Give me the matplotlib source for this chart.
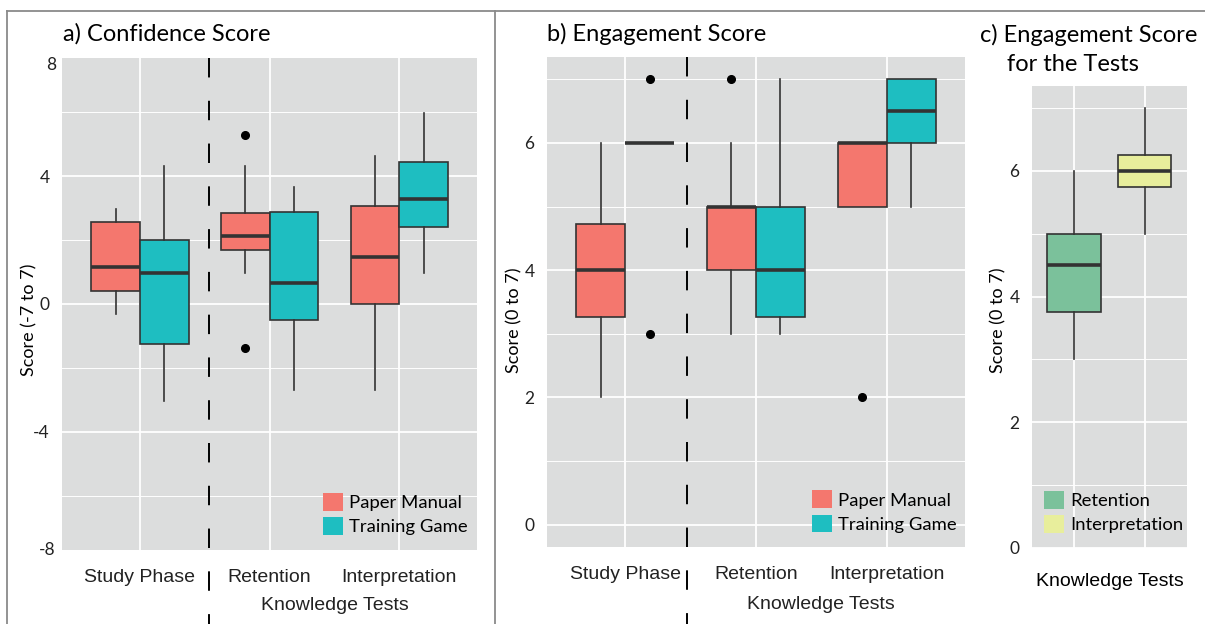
import numpy as np
import matplotlib
matplotlib.use("Agg")
import matplotlib.pyplot as plt
from matplotlib.patches import Patch
from matplotlib.lines import Line2D
import matplotlib.transforms as mtransforms

###---data (box stats: whislo, q1, med, q3, whishi)---###
categories = ["Study Phase", "Retention", "Interpretation"]
groups = ["Paper Manual", "Training Game"]

conf_paper = [[-0.31, 0.41, 1.16, 2.56, 2.97],
              [0.97, 1.69, 2.13, 2.84, 4.31],
              [-2.69, 0.00, 1.47, 3.06, 4.63]]
conf_paper_out = [[], [5.28, -1.37], []]
conf_game = [[-3.03, -1.25, 0.97, 2.00, 4.31],
             [-2.69, -0.50, 0.66, 2.88, 3.66],
             [0.97, 2.41, 3.28, 4.44, 5.97]]
conf_game_out = [[], [], []]

eng_paper = [[2.0, 3.26, 4.0, 4.73, 6.0],
             [3.0, 4.0, 5.0, 5.0, 6.0],
             [5.0, 5.0, 6.0, 6.0, 6.0]]
eng_paper_out = [[], [7.0], [2.0]]
eng_game = [[6.0, 6.0, 6.0, 6.0, 6.0],
            [3.0, 3.26, 4.0, 5.0, 7.0],
            [5.0, 6.0, 6.5, 7.0, 7.0]]
eng_game_out = [[7.0, 3.0], [], []]

test_names = ["Retention", "Interpretation"]
eng_tests = [[3.0, 3.75, 4.5, 5.0, 6.0],
             [5.0, 5.75, 6.0, 6.25, 7.0]]
eng_tests_out = [[], []]

c_paper = "#F4776E"
c_game = "#1EBEC1"
c_tests = ["#7BC19B", "#E8EE9C"]
bg = "#DCDDDD"
edge = "#333333"

title_font = "Lato"
tick_font = "Liberation Sans"


def stats(rows, outs):
    return [dict(whislo=r[0], q1=r[1], med=r[2], q3=r[3], whishi=r[4], fliers=o)
            for r, o in zip(rows, outs)]


def draw_box(ax, rows, outs, pos, width, colors):
    b = ax.bxp(stats(rows, outs), positions=pos, widths=width, patch_artist=True,
               showcaps=False, manage_ticks=False,
               boxprops=dict(edgecolor=edge, linewidth=1.2),
               whiskerprops=dict(color=edge, linewidth=1.2),
               medianprops=dict(color=edge, linewidth=2.6, solid_capstyle="butt"),
               flierprops=dict(marker="o", markerfacecolor="black",
                               markeredgecolor="black", markersize=5.5))
    for p, c in zip(b["boxes"], colors):
        p.set_facecolor(c)
        p.set_zorder(3)
    for k in ("whiskers", "medians", "fliers"):
        for l in b[k]:
            l.set_zorder(3.5)


def style(ax, ylim, major, minor, xlim):
    ax.set_facecolor(bg)
    ax.set_xlim(*xlim)
    ax.set_ylim(*ylim)
    ax.set_yticks(major)
    ax.set_yticks(minor, minor=True)
    for s in ax.spines.values():
        s.set_visible(False)
    ax.grid(True, which="major", color="white", linewidth=1.3)
    ax.grid(True, which="minor", axis="y", color="white", linewidth=0.7)
    ax.set_axisbelow(True)
    ax.tick_params(which="both", length=0)
    ax.tick_params(axis="y", pad=9, labelsize=12.5, labelcolor="#222222")
    ax.tick_params(axis="x", pad=14, labelsize=14, labelcolor="#222222")
    for t in ax.get_yticklabels():
        t.set_fontfamily(title_font)
    for t in ax.get_xticklabels():
        t.set_fontfamily(tick_font)


fig = plt.figure(figsize=(12.05, 6.24), dpi=100)
fig.patch.set_facecolor("white")

x = np.arange(len(categories))
w = 0.375
ylab_size = 13

###---a) confidence---###
ax1 = fig.add_axes([0.0515, 0.1186, 0.3444, 0.7885])
style(ax1, (-7.7, 7.7), [-4, 0, 4], [-6, -2, 2, 6], (-0.6, 2.6))
draw_box(ax1, conf_paper, conf_paper_out, x - w / 2, w, [c_paper] * 3)
draw_box(ax1, conf_game, conf_game_out, x + w / 2, w, [c_game] * 3)
ax1.set_xticks(x)
ax1.set_xticklabels(categories, fontfamily=tick_font)
ax1.set_yticks([-4, 0, 4])
ax1.set_yticklabels(["-4", "0", "4"], fontfamily=title_font)
ax1.text(-0.015, 0.985, "8", transform=ax1.transAxes, ha="right", va="center",
         fontsize=12.5, fontfamily=title_font, color="#222222")
ax1.text(-0.015, 0.0, "-8", transform=ax1.transAxes, ha="right", va="center",
         fontsize=12.5, fontfamily=title_font, color="#222222")
ax1.set_ylabel("Score (-7 to 7)", fontsize=ylab_size, fontfamily=title_font)
ax1.yaxis.set_label_coords(-0.06, 0.467)

###---b) engagement---###
ax2 = fig.add_axes([0.4539, 0.1234, 0.3469, 0.7853])
style(ax2, (-0.35, 7.35), [0, 2, 4, 6], [1, 3, 5, 7], (-0.6, 2.6))
draw_box(ax2, eng_paper, eng_paper_out, x - w / 2, w, [c_paper] * 3)
draw_box(ax2, eng_game, eng_game_out, x + w / 2, w, [c_game] * 3)
ax2.set_xticks(x)
ax2.set_xticklabels(categories, fontfamily=tick_font)
for t in ax2.get_yticklabels():
    t.set_fontfamily(title_font)
ax2.set_ylabel("Score (0 to 7)", fontsize=ylab_size, fontfamily=title_font)
ax2.yaxis.set_label_coords(-0.058, 0.463)

###---c) engagement for tests---###
ax3 = fig.add_axes([0.8564, 0.1218, 0.1286, 0.7404])
style(ax3, (0.0, 7.35), [0, 2, 4, 6], [1, 3, 5, 7], (-0.6, 1.6))
draw_box(ax3, eng_tests, eng_tests_out, np.arange(2), 0.76, c_tests)
ax3.set_xticks([0, 1])
ax3.set_xticklabels([])
for t in ax3.get_yticklabels():
    t.set_fontfamily(title_font)
ax3.set_ylabel("Score (0 to 7)", fontsize=ylab_size, fontfamily=title_font)
ax3.yaxis.set_label_coords(-0.165, 0.494)
ax3.set_xlabel("Knowledge Tests", fontsize=14, fontfamily=tick_font, labelpad=4)

# dashed separators and shared x labels
for ax, xd, yk in ((ax1, 0.53, -0.112), (ax2, 0.47, -0.118)):
    tr = mtransforms.blended_transform_factory(ax.transData, ax.transAxes)
    ax.plot([xd, xd], [1.0, -0.16], transform=tr, color="black", linewidth=1.4,
            dashes=(10, 12), clip_on=False, zorder=5)
    ax.text(1.5, yk, "Knowledge Tests", transform=tr, ha="center", va="center",
            fontsize=14, fontfamily=tick_font, color="#222222")

# legends
leg_kw = dict(loc="lower left", frameon=False, borderpad=0, borderaxespad=0,
              handlelength=1.1, handleheight=1.1, handletextpad=0.3,
              labelspacing=0.33, prop={"family": title_font, "size": 13.3})
h = [Patch(facecolor=c_paper, edgecolor="none"), Patch(facecolor=c_game, edgecolor="none")]
ax1.legend(h, groups, bbox_to_anchor=(0.629, 0.03), **leg_kw)
ax2.legend(h, groups, bbox_to_anchor=(0.634, 0.029), **leg_kw)
h3 = [Patch(facecolor=c, edgecolor="none") for c in c_tests]
ax3.legend(h3, test_names, bbox_to_anchor=(0.077, 0.032), **leg_kw)

# titles
fig.text(0.0523, 0.946, "a) Confidence Score", fontsize=17, fontfamily=title_font,
         va="center", ha="left")
fig.text(0.4539, 0.946, "b) Engagement Score", fontsize=17, fontfamily=title_font,
         va="center", ha="left")
fig.text(0.8133, 0.944, "c) Engagement Score", fontsize=17, fontfamily=title_font,
         va="center", ha="left")
fig.text(0.8357, 0.896, "for the Tests", fontsize=17, fontfamily=title_font,
         va="center", ha="left")

# panel frame
fc = "#8a8a8a"
fig.add_artist(Line2D([0.0058, 1.0], [0.9816, 0.9816], color=fc, linewidth=1.3))
fig.add_artist(Line2D([0.0058, 0.0058], [0.0, 0.9816], color=fc, linewidth=1.3))
fig.add_artist(Line2D([0.4108, 0.4108], [0.0, 0.9816], color=fc, linewidth=1.3))

fig.savefig("out.png", dpi=100)
